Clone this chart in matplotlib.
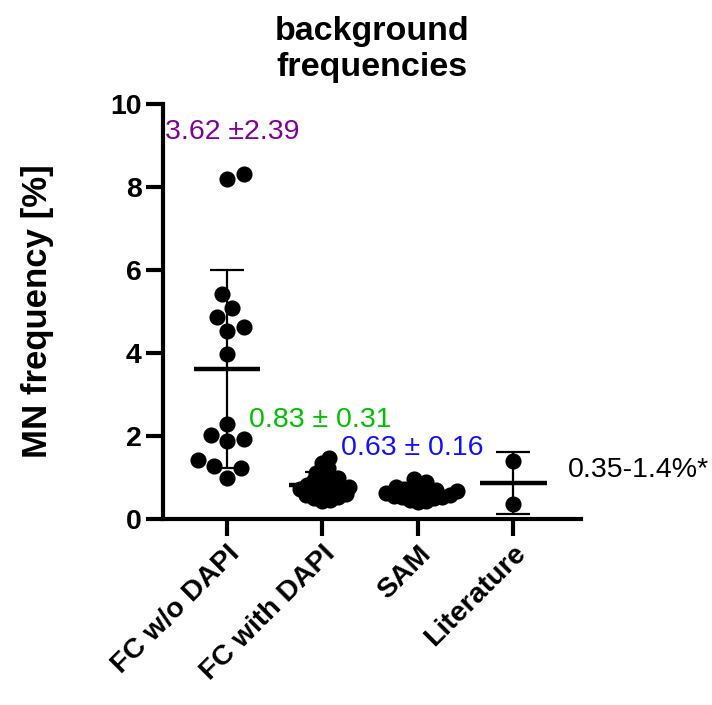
import matplotlib
matplotlib.use("Agg")
import matplotlib.pyplot as plt
import numpy as np

plt.rcParams['font.family'] = ['Liberation Sans', 'DejaVu Sans']

# data
groups = ['FC w/o DAPI', 'FC with DAPI', 'SAM', 'Literature']
fc_no_dapi = [8.19, 8.31, 5.42, 5.08, 4.87, 4.53, 4.63, 3.97,
              2.29, 2.02, 1.88, 1.93, 1.42, 1.23, 1.28, 0.99]
fc_dapi = [1.48, 1.36, 1.22, 1.12, 1.05, 0.98, 0.93, 0.90, 0.86, 0.82, 0.78,
           0.75, 0.72, 0.70, 0.67, 0.64, 0.60, 0.57, 0.53, 0.50, 0.47, 0.44]
sam = [0.97, 0.88, 0.80, 0.76, 0.72, 0.70, 0.68, 0.66, 0.64, 0.62,
       0.60, 0.58, 0.56, 0.54, 0.52, 0.50, 0.47, 0.44, 0.41]
literature = [1.40, 0.35]
means = [3.62, 0.83, 0.63, 0.875]
sds = [2.39, 0.31, 0.16, 0.742]
labels = ['3.62 \u00b12.39', '0.83 \u00b1 0.31', '0.63 \u00b1 0.16', '0.35-1.4%*']
label_colors = ['#800098', '#00c000', '#1010ff', 'black']
label_pos = [(-0.65, 9.33), (0.23, 2.38), (1.20, 1.71), (3.57, 1.18)]

all_vals = [fc_no_dapi, fc_dapi, sam, literature]
min_dist = [17, 8, 8, 16]  # px spacing for the swarm

fig = plt.figure(figsize=(7.12, 7.05), dpi=100)
ax = fig.add_axes([0.229, 0.2638, 0.587, 0.5887])
ax.set_xlim(-0.67, 3.71)
ax.set_ylim(0, 10)

# pixel scales (used for swarm layout)
px_per_x = 95.3
px_per_y = 41.5


def swarm(values, dist):
    # place points as close to the centre as possible without overlapping
    placed = []
    offs = np.zeros(len(values))
    order = np.argsort(values)
    cands = [0]
    for k in range(1, 60):
        cands += [k, -k]
    for i in order:
        y = values[i] * px_per_y
        for c in cands:
            ok = True
            for (px, py) in placed:
                if (px - c) ** 2 + (py - y) ** 2 < dist ** 2:
                    ok = False
                    break
            if ok:
                break
        placed.append((c, y))
        offs[i] = c
    return offs / px_per_x


for i, vals in enumerate(all_vals):
    xs = i + swarm(vals, min_dist[i])
    ax.scatter(xs, vals, s=135, color='black', zorder=3, linewidths=0)
    ax.errorbar(i, means[i], yerr=sds[i], fmt='none', ecolor='black',
                elinewidth=1.6, capsize=12, capthick=1.6, zorder=2)
    ax.hlines(means[i], i - 0.35, i + 0.35, color='black', lw=3.2, zorder=4)
    ax.text(label_pos[i][0], label_pos[i][1], labels[i], color=label_colors[i],
            fontsize=20.5, va='center', ha='left', clip_on=False)

for s in ['top', 'right']:
    ax.spines[s].set_visible(False)
for s in ['left', 'bottom']:
    ax.spines[s].set_linewidth(3)

ax.set_yticks([0, 2, 4, 6, 8, 10])
ax.set_xticks(range(len(groups)))
ax.set_xticklabels(groups, rotation=45, ha='right', rotation_mode='anchor',
                   fontsize=20.5, fontweight='bold')
ax.tick_params(axis='both', width=3, length=12, labelsize=20.5)
for t in ax.get_yticklabels():
    t.set_fontweight('bold')

ax.set_ylabel('MN frequency [%]', fontsize=25, fontweight='bold', labelpad=40)
ax.set_title('background\nfrequencies', fontsize=24.5, fontweight='bold',
             pad=20, linespacing=1.2)

fig.savefig('out.png', dpi=100)
